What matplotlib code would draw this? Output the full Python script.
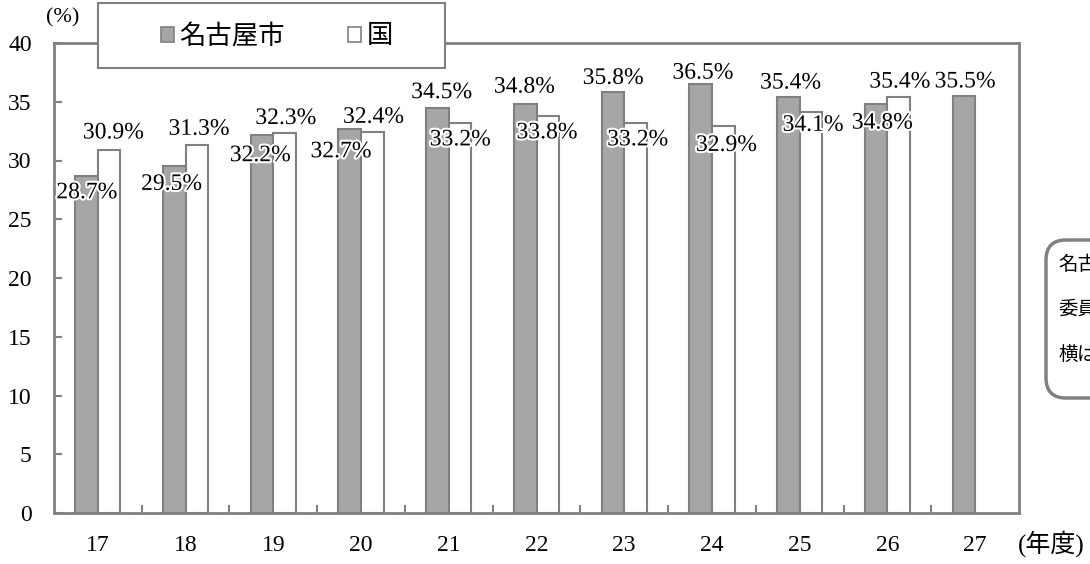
"""名古屋市と国の割合 (平成17-27年度) の棒グラフ"""

# == imports ==
import matplotlib
matplotlib.use('Agg')
import matplotlib.pyplot as plt
import matplotlib.patheffects as pe
from matplotlib.patches import Patch, Rectangle, FancyBboxPatch
import numpy as np

# == data ==
years = ['17', '18', '19', '20', '21', '22', '23', '24', '25', '26', '27']
nagoya = [28.7, 29.5, 32.2, 32.7, 34.5, 34.8, 35.8, 36.5, 35.4, 34.8, 35.5]
kuni = [30.9, 31.3, 32.3, 32.4, 33.2, 33.8, 33.2, 32.9, 34.1, 35.4, None]
series_names = ['名古屋市', '国']

# label offsets from bar top, in pixels (dx, dy) - placed by hand like the original
nagoya_off = [(0, -17), (-3, -18), (-2, -21), (-9, -23), (4, 15), (-1, 17),
              (0, 14), (2, 11), (2, 14), (6, -19), (1, 14)]
kuni_off = [(4, 17), (2, 16), (1, 15), (1, 15), (0, -17), (-1, -17),
            (2, -17), (3, -19), (2, -13), (1, 15), (0, 0)]

# == style ==
plt.rcParams['font.family'] = ['Liberation Serif', 'Noto Sans CJK JP']
GRAY = '#a6a6a6'
EDGE = '#808080'
W, H = 1090, 564

fig = plt.figure(figsize=(W / 100, H / 100), dpi=100)
ax = fig.add_axes([54 / W, 1 - 513 / H, (1019 - 54) / W, (513 - 43) / H])

x = np.arange(len(years))
bw = 0.257
b1 = ax.bar(x - bw / 2, nagoya, bw, color=GRAY, edgecolor=EDGE, linewidth=1.5, zorder=3)
kx = [xi for xi, v in zip(x, kuni) if v is not None]
kv = [v for v in kuni if v is not None]
b2 = ax.bar(np.array(kx) + bw / 2, kv, bw, color='white', edgecolor=EDGE, linewidth=1.5, zorder=3)

# data labels
halo = [pe.withStroke(linewidth=3, foreground='white')]
def add_labels(xs, vals, offs):
    for xi, v, (dx, dy) in zip(xs, vals, offs):
        if v is None:
            continue
        ax.annotate(f'{v:.1f}%', (xi, v), xytext=(dx * 0.72, dy * 0.72),
                    textcoords='offset points', ha='center', va='center',
                    fontsize=17, color='black', path_effects=halo, zorder=6)

add_labels(x - bw / 2, nagoya, nagoya_off)
add_labels(x + bw / 2, kuni, kuni_off)

# axes
ax.set_xlim(-0.5, len(years) - 0.5)
ax.set_ylim(0, 40)
ax.set_yticks(np.arange(0, 41, 5))
ax.set_xticks(x)
ax.set_xticklabels(years)
ax.set_xticks(np.arange(0.5, len(years) - 1, 1), minor=True)
ax.tick_params(axis='x', which='major', length=0, pad=16, labelsize=17)
ax.tick_params(axis='x', which='minor', direction='in', length=6, width=1.5, color=EDGE)
ax.tick_params(axis='y', direction='in', length=6, width=1.5, color=EDGE, pad=16, labelsize=17)
for s in ax.spines.values():
    s.set_color(EDGE)
    s.set_linewidth(2)

fig.text(63 / W, 1 - 18 / H, '(%)', ha='center', va='center', fontsize=16)
fig.text(1051 / W, 1 - 544 / H, '(年度)', ha='center', va='center', fontsize=18)

# legend box drawn over the top spine
box = Rectangle((98 / W, 1 - 68 / H), (445 - 98) / W, 65 / H, transform=fig.transFigure,
                facecolor='white', edgecolor=EDGE, linewidth=1.5, clip_on=False, zorder=4)
ax.add_patch(box)
handles = [Patch(facecolor=GRAY, edgecolor=EDGE, linewidth=1.2),
           Patch(facecolor='white', edgecolor=EDGE, linewidth=1.2)]
leg = ax.legend(handles, series_names, ncol=2, loc='center',
                bbox_to_anchor=(277 / W, 1 - 36 / H), bbox_transform=fig.transFigure,
                frameon=False, fontsize=19, handlelength=0.5, handleheight=0.5,
                handletextpad=0.2, columnspacing=2.4, borderpad=0)
leg.set_zorder(7)

# callout box on the right edge (cut off by the figure, as in the original)
call = FancyBboxPatch((10.46, (H - 398) / 100), 1.2, 1.58,
                      boxstyle='round,pad=0,rounding_size=0.2',
                      transform=fig.dpi_scale_trans, facecolor='white',
                      edgecolor=EDGE, linewidth=2.5, clip_on=False)
fig.patches.append(call)
for ty, t in zip([265, 310, 355], ['名古屋市', '委員会', '横ばい']):
    fig.text(1058 / W, 1 - ty / H, t, ha='left', va='center', fontsize=14)

fig.savefig('out.png', dpi=100)
